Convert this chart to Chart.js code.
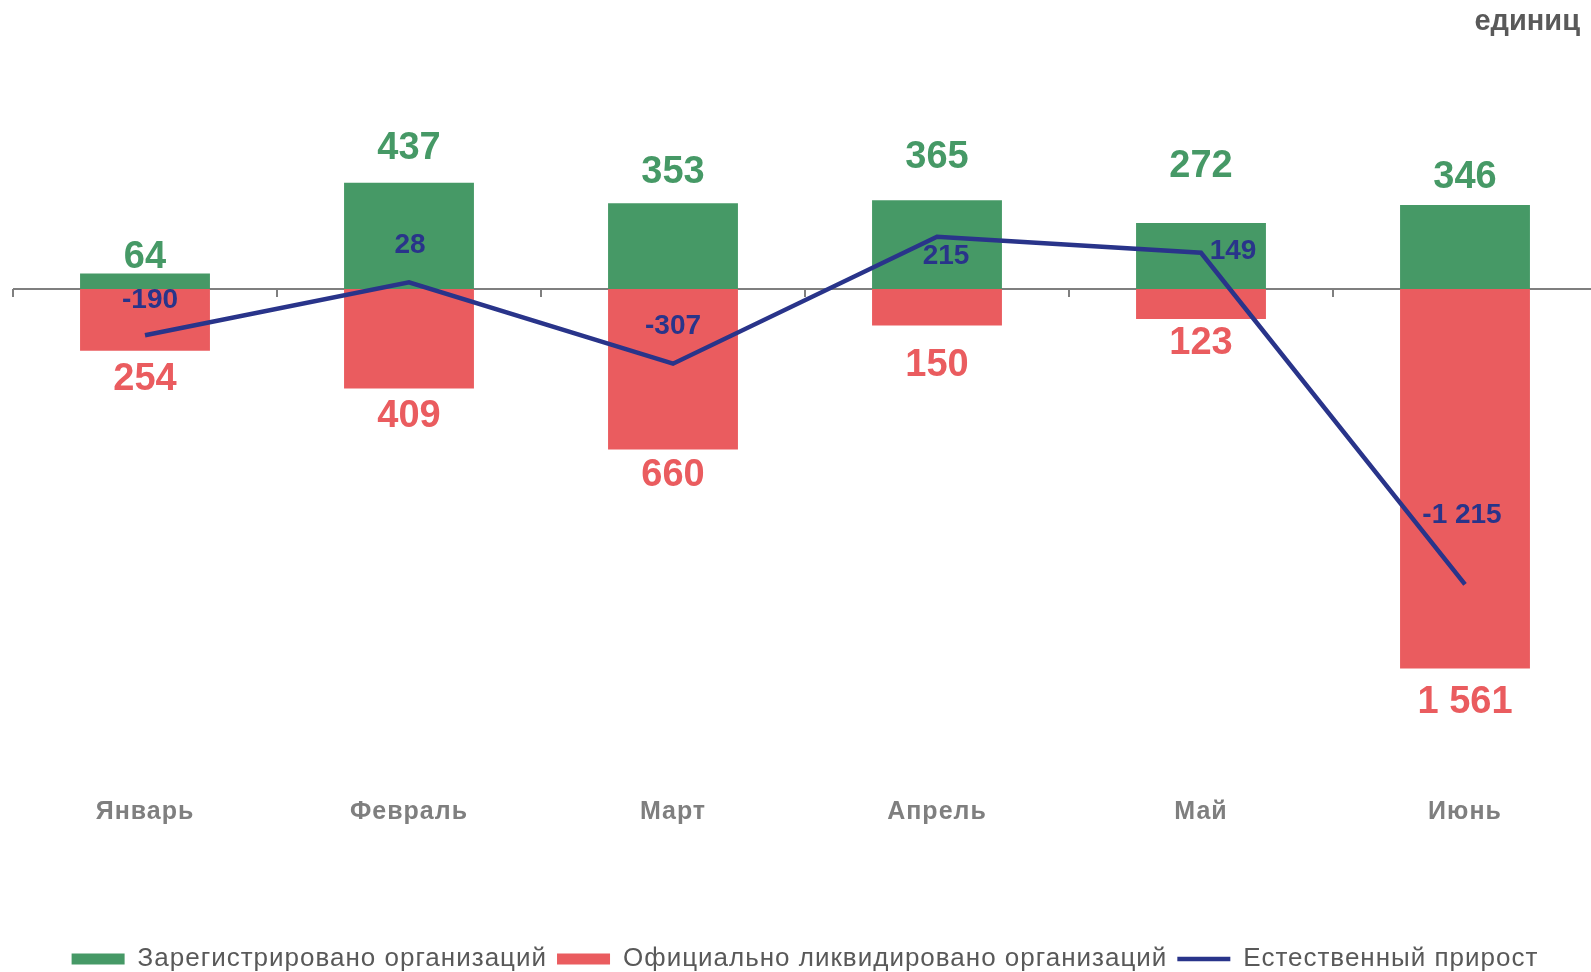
<!DOCTYPE html>
<html lang="ru">
<head>
<meta charset="utf-8">
<script src="https://cdn.jsdelivr.net/npm/chart.js@4.4.1/dist/chart.umd.min.js"></script>
<style>
    html, body { margin: 0; padding: 0; overflow: hidden; background: #fff; }
    #wrap { position: relative; width: 1600px; height: 972px; }
</style>
</head>
<body>
<div id="wrap"><canvas id="chart" width="1600" height="972"></canvas></div>
<script>
// данные
const months = ['Январь', 'Февраль', 'Март', 'Апрель', 'Май', 'Июнь'];
const registered = [64, 437, 353, 365, 272, 346];
const liquidated = [254, 409, 660, 150, 123, 1561];
const naturalGrowth = [-190, 28, -307, 215, 149, -1215];
const unitLabel = 'единиц';

// положение подписей (сдвиги в пикселях)
const regLabelLift = [16, 34, 31, 43, 56, 27];
const liqLabelDrop = [29, 28, 26, 40, 25, 34];
const growthLabelShift = [[5, -35], [1, -37], [0, -37], [9, 20], [32, -2], [-3, -69]];

const GREEN = '#469966';
const RED = '#ea5c5f';
const NAVY = '#29348a';
const GREY = '#7f7f7f';
const FONT = "'Liberation Sans', Arial, sans-serif";

function fmt(v) {
    const s = Math.abs(v).toString().replace(/\B(?=(\d{3})+(?!\d))/g, ' ');
    return v < 0 ? '-' + s : s;
}

// разрядка текста легенды и подписей оси (как в исходнике)
const spacingPlugin = {
    id: 'spacing',
    beforeLayout(chart) { chart.ctx.letterSpacing = '1px'; },
    afterLayout(chart) { chart.ctx.letterSpacing = '0px'; },
    beforeDraw(chart) { chart.ctx.letterSpacing = '1px'; },
    beforeDatasetsDraw(chart) { chart.ctx.letterSpacing = '0px'; }
};

// линия оси на нуле + засечки между категориями
const zeroAxisPlugin = {
    id: 'zeroAxis',
    beforeDatasetsDraw(chart) {
        const { ctx, chartArea, scales: { x, y } } = chart;
        const y0 = y.getPixelForValue(0);
        const step = x.getPixelForValue(1) - x.getPixelForValue(0);
        ctx.save();
        ctx.strokeStyle = GREY;
        ctx.lineWidth = 2;
        ctx.beginPath();
        ctx.moveTo(chartArea.left, y0);
        ctx.lineTo(chartArea.right, y0);
        for (let i = 0; i <= months.length; i++) {
            const tx = Math.round(x.getPixelForValue(0) - step / 2 + i * step);
            ctx.moveTo(tx, y0);
            ctx.lineTo(tx, y0 + 8);
        }
        ctx.stroke();
        ctx.restore();
    }
};

// подписи значений
const valueLabelsPlugin = {
    id: 'valueLabels',
    afterDatasetsDraw(chart) {
        const { ctx } = chart;
        const regMeta = chart.getDatasetMeta(0);
        const liqMeta = chart.getDatasetMeta(1);
        const lineMeta = chart.getDatasetMeta(2);
        ctx.save();
        ctx.textAlign = 'center';
        ctx.textBaseline = 'middle';

        ctx.font = `bold 38px ${FONT}`;
        ctx.fillStyle = GREEN;
        regMeta.data.forEach((el, i) => ctx.fillText(fmt(registered[i]), el.x, el.y - regLabelLift[i]));

        ctx.fillStyle = RED;
        liqMeta.data.forEach((el, i) => ctx.fillText(fmt(liquidated[i]), el.x, el.y + liqLabelDrop[i]));

        ctx.font = `bold 28px ${FONT}`;
        ctx.fillStyle = NAVY;
        lineMeta.data.forEach((el, i) => {
            const [dx, dy] = growthLabelShift[i];
            ctx.fillText(fmt(naturalGrowth[i]), el.x + dx, el.y + dy);
        });

        ctx.restore();
    },
    afterDraw(chart) {
        const { ctx } = chart;
        ctx.save();
        ctx.font = `bold 29px ${FONT}`;
        ctx.fillStyle = '#595959';
        ctx.textAlign = 'right';
        ctx.textBaseline = 'middle';
        ctx.fillText(unitLabel, 1580, 22);
        ctx.restore();
    }
};

const ctx = document.getElementById('chart').getContext('2d');
window.orgChart = new Chart(ctx, {
    type: 'bar',
    data: {
        labels: months,
        datasets: [
            {
                label: 'Зарегистрировано организаций',
                data: registered,
                backgroundColor: GREEN,
                borderWidth: 0,
                stack: 'bars',
                order: 1,
                pointStyle: 'rect',
                categoryPercentage: 1,
                barPercentage: 0.492
            },
            {
                label: 'Официально ликвидировано организаций',
                data: liquidated.map(v => -v),
                backgroundColor: RED,
                borderWidth: 0,
                stack: 'bars',
                order: 1,
                pointStyle: 'rect',
                categoryPercentage: 1,
                barPercentage: 0.492
            },
            {
                type: 'line',
                label: 'Естественный прирост',
                data: naturalGrowth,
                borderColor: NAVY,
                backgroundColor: NAVY,
                borderWidth: 4.5,
                pointRadius: 0,
                tension: 0,
                stack: 'line',
                order: 0,
                pointStyle: 'line'
            }
        ]
    },
    options: {
        responsive: false,
        devicePixelRatio: 1,
        animation: false,
        layout: { padding: { top: 60, left: 13, right: 3, bottom: -10 } },
        plugins: {
            tooltip: { enabled: false },
            legend: {
                position: 'bottom',
                labels: {
                    usePointStyle: true,
                    pointStyleWidth: 53,
                    boxHeight: 11,
                    padding: 10,
                    color: '#595959',
                    font: { family: FONT, size: 26 },
                    sort: (a, b) => a.datasetIndex - b.datasetIndex
                }
            }
        },
        scales: {
            x: {
                stacked: true,
                grid: { display: false, drawTicks: false },
                border: { display: false },
                ticks: { padding: 37, color: GREY, font: { family: FONT, size: 25, weight: 'bold' } },
                afterFit: scale => { scale.height = 176; }
            },
            y: {
                stacked: true,
                display: false,
                min: -1937,
                max: 942
            }
        }
    },
    plugins: [spacingPlugin, zeroAxisPlugin, valueLabelsPlugin]
});
</script>
</body>
</html>
